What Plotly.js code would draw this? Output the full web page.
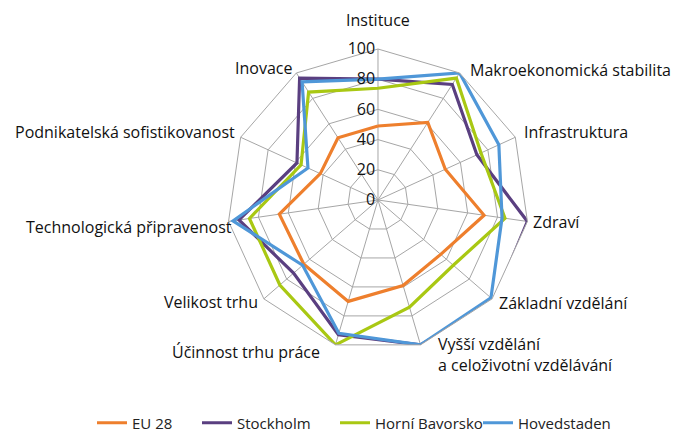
<!DOCTYPE html>
<html>
<head>
<meta charset="utf-8">
<script src="https://cdn.plot.ly/plotly-3.0.1.min.js"></script>
<style>html,body{margin:0;padding:0;background:#fff;}#chart{width:676px;height:432px;}</style>
</head>
<body>
<div id="chart"></div>
<script>
const categories = [
  "Instituce",
  "Makroekonomická stabilita",
  "Infrastruktura",
  "Zdraví",
  "Základní vzdělání",
  "Vyšší vzdělání<br>a celoživotní vzdělávání",
  "Účinnost trhu práce",
  "Velikost trhu",
  "Technologická připravenost",
  "Podnikatelská sofistikovanost",
  "Inovace"
];
const seriesNames = ["EU 28", "Stockholm", "Horní Bavorsko", "Hovedstaden"];
const eu28        = [49, 61, 49, 71, 55, 59, 70, 65, 66, 42, 49];
const stockholm   = [80, 91, 72, 100, 102, 100, 93, 74, 93, 59, 96];
const horniBav    = [74, 96, 75, 85, 66, 74, 100, 86, 86, 56, 85];
const hovedstaden = [80, 100, 88, 83, 99, 100, 92, 66, 97, 51, 93];
const radialTicks = [0, 20, 40, 60, 80, 100];

const W = 676, H = 432;
const colors = ["#EE7F2D", "#5A3F80", "#A9C813", "#4F97D8"];
const allSeries = [eu28, stockholm, horniBav, hovedstaden];
const legendIds = ["legend", "legend2", "legend3", "legend4"];
const legendLeft = [92, 197, 335, 478];

const traces = allSeries.map((vals, i) => ({
  type: "scatterpolar",
  r: vals.concat([vals[0]]),
  theta: categories.concat([categories[0]]),
  mode: "lines",
  name: seriesNames[i],
  legend: legendIds[i],
  line: {color: colors[i], width: 3.2},
  cliponaxis: false,
  hoverinfo: "skip"
}));

// category label placement (pixel anchor points, anchor side)
const labelPos = [
  {x: 378, y: 20, xa: "center"},
  {x: 468, y: 70, xa: "left"},
  {x: 522, y: 132, xa: "left"},
  {x: 531, y: 222, xa: "left"},
  {x: 497, y: 303, xa: "left"},
  {x: 436, y: 354, xa: "left"},
  {x: 322, y: 352, xa: "right"},
  {x: 260, y: 302, xa: "right"},
  {x: 234, y: 227, xa: "right"},
  {x: 237, y: 132, xa: "right"},
  {x: 294, y: 68, xa: "right"}
];
const annotations = categories.map((c, i) => ({
  text: c,
  xref: "paper", yref: "paper",
  x: labelPos[i].x / W, y: 1 - labelPos[i].y / H,
  xanchor: labelPos[i].xa, yanchor: "middle",
  align: "left",
  showarrow: false,
  font: {size: 16, color: "#111"}
}));

const layout = {
  width: W, height: H,
  margin: {l: 0, r: 0, t: 0, b: 0, autoexpand: false},
  paper_bgcolor: "#fff",
  font: {family: "Open Sans, DejaVu Sans, sans-serif", size: 16, color: "#111"},
  showlegend: true,
  annotations: annotations,
  polar: {
    domain: {x: [0.3358, 0.7825], y: [0.1875, 0.8866]},
    gridshape: "linear",
    bgcolor: "#fff",
    angularaxis: {
      direction: "clockwise",
      rotation: 90,
      type: "category",
      categoryarray: categories,
      showline: true, linecolor: "#A6A6A6", linewidth: 1,
      gridcolor: "#A6A6A6", gridwidth: 1,
      ticks: "", showticklabels: false
    },
    radialaxis: {
      range: [0, 100],
      angle: 90,
      tickangle: 90,
      side: "counterclockwise",
      tickvals: radialTicks,
      ticktext: radialTicks.map(String),
      showline: false,
      gridcolor: "#A6A6A6", gridwidth: 1,
      ticks: "",
      tickfont: {size: 16, color: "#111"}
    }
  }
};
legendIds.forEach((id, i) => {
  layout[id] = {
    orientation: "h", x: legendLeft[i] / W, xanchor: "left",
    y: 1 - 423 / H, yanchor: "middle",
    font: {size: 15, color: "#222"}, bgcolor: "rgba(0,0,0,0)"
  };
});

Plotly.newPlot("chart", traces, layout, {displayModeBar: false, staticPlot: true});
</script>
</body>
</html>
